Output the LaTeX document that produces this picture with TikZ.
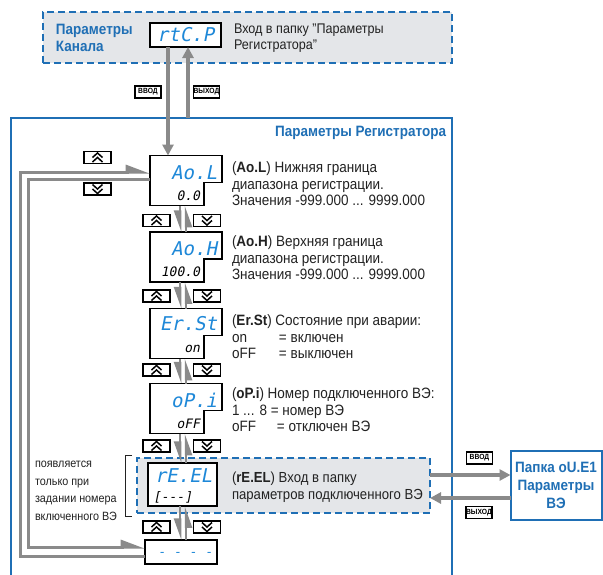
\documentclass[tikz,border=0pt]{standalone}
\usepackage{fontspec}
\setmainfont{Liberation Sans}[FakeStretch=0.9]
\newfontfamily\segfont{DejaVu Sans Mono}[FakeSlant=0.2]
\usetikzlibrary{arrows.meta,calc}
\definecolor{bl}{HTML}{1F6FB5}
\definecolor{seg}{HTML}{1E88D8}
\definecolor{lg}{HTML}{E4E6E9}
\definecolor{gr}{HTML}{8A8A8A}
\definecolor{tx}{HTML}{222222}
\tikzset{
  every node/.style={inner sep=0pt, outer sep=0pt},
  txt/.style={font=\fontsize{15}{16.5}\selectfont, align=left, text=tx},
  btitle/.style={font=\fontsize{15}{16.5}\selectfont\bfseries, text=bl, align=left},
  disp/.style={minimum width=72pt, minimum height=50pt},
  dline/.style={line width=1.3pt, fill=white, line join=miter},
  segtop/.style={font=\segfont\fontsize{19}{19}\selectfont, text=seg},
  segbot/.style={font=\segfont\fontsize{13}{13}\selectfont, text=black},
  dashbox/.style={draw=bl, line width=1.5pt, dash pattern=on 7pt off 4pt, fill=lg},
  btn/.style={draw=black, line width=1.2pt, fill=white, minimum width=27pt, minimum height=12pt},
  upbtn/.style={btn, path picture={
    \draw[line width=1.5pt, line join=miter, shift={(path picture bounding box.center)}]
      (-5,0)--(0,-4.5)--(5,0) (-5,4.5)--(0,0)--(5,4.5);}},
  dnbtn/.style={btn, path picture={
    \draw[line width=1.5pt, line join=miter, shift={(path picture bounding box.center)}]
      (-5,0)--(0,4.5)--(5,0) (-5,-4.5)--(0,0)--(5,-4.5);}},
  lab/.style={draw=black, line width=1.1pt, fill=white, minimum width=26pt, minimum height=12pt,
    font=\fontsize{7.5}{7.5}\selectfont\bfseries},
  garrow/.style={draw=gr, line width=3.5pt, -{Triangle[length=11pt,width=11pt]}},
  hvs/.style={draw=gr, line width=2.5pt, -{Triangle[harpoon,swap,length=18pt,width=12pt]}},
  hl/.style={draw=gr, line width=3pt, line join=miter, -{Triangle[harpoon,length=20pt,width=14pt]}},
}
\newcommand\notchbox[1]{\draw[dline] (#1.north west) -- (#1.north east) -- ([yshift=-27pt]#1.north east)
  -- ([xshift=-18pt,yshift=-27pt]#1.north east) -- ([xshift=-18pt]#1.south east) -- (#1.south west) -- cycle;}
\begin{document}
\begin{tikzpicture}[x=1pt,y=-1pt]
\useasboundingbox (0,0) rectangle (603,574);
\fill[white] (0,0) rectangle (603,574);

% top channel box
\node[dashbox, minimum width=409pt, minimum height=51pt] (chan) at (247.5,37.5) {};
\node[btitle, anchor=west] (chant) at (56,38) {Параметры\\Канала};
\node[draw=black, line width=1.3pt, fill=white, minimum width=71pt, minimum height=24pt] (rtcp) at (185.5,35) {};
\node[segtop] (rtcpt) at (185.5,35) {rtC.P};
\node[txt, anchor=west, font=\fontsize{14}{16.5}\selectfont] (chand) at (234,38) {Вход в папку "Параметры\\Регистратора"};

% register frame
\draw[bl, line width=2pt] (11,590) -- (11,118) -- (452,118) -- (452,590);
\node[btitle, anchor=east] (regt) at (446,133) {Параметры Регистратора};
\coordinate (rt) at (188,118);

\node[lab] (vvod1) at (148,92) {ВВОД};
\node[lab] (vyh1) at (206.5,92) {ВЫХОД};

% displays
\node[disp] (aol) at (186,180.5) {}; \notchbox{aol}
\node[segtop, anchor=east] (aolt) at ([xshift=-5pt,yshift=-17pt]aol.north east) {Ao.L};
\node[segbot, anchor=east] (aolb) at ([xshift=-22pt,yshift=-40pt]aol.north east) {0.0};
\node[txt, anchor=base west] (aold) at (232,205.5) {(\textbf{Ao.L}) Нижняя граница\\диапазона регистрации.\\Значения -999.000 ... 9999.000};

\node[disp] (aoh) at (186,257) {}; \notchbox{aoh}
\node[segtop, anchor=east] (aoht) at ([xshift=-5pt,yshift=-17pt]aoh.north east) {Ao.H};
\node[segbot, anchor=east] (aohb) at ([xshift=-22pt,yshift=-40pt]aoh.north east) {100.0};
\node[txt, anchor=base west] (aohd) at (232,279.5) {(\textbf{Ao.H}) Верхняя граница\\диапазона регистрации.\\Значения -999.000 ... 9999.000};

\node[disp] (erst) at (186,333.5) {}; \notchbox{erst}
\node[segtop, anchor=east] (erstt) at ([xshift=-5pt,yshift=-15pt]erst.north east) {Er.St};
\node[segbot, anchor=east] (erstb) at ([xshift=-22pt,yshift=-40pt]erst.north east) {on};
\node[txt, anchor=base west] (erstd) at (232,358.5) {(\textbf{Er.St}) Состояние при аварии:\\\makebox[47pt][l]{on}= включен\\\makebox[47pt][l]{oFF}= выключен};

\node[disp] (opi) at (186,408.5) {}; \notchbox{opi}
\node[segtop, anchor=east] (opit) at ([xshift=-5pt,yshift=-17pt]opi.north east) {oP.i};
\node[segbot, anchor=east] (opib) at ([xshift=-22pt,yshift=-40pt]opi.north east) {oFF};
\node[txt, anchor=base west] (opid) at (232,431.5) {(\textbf{oP.i}) Номер подключенного ВЭ:\\1 ... 8 = номер ВЭ\\\makebox[45pt][l]{oFF}= отключен ВЭ};

% rE.EL
\node[dashbox, minimum width=293pt, minimum height=55pt] (dbox) at (283.5,485.5) {};
\node[draw=black, line width=1.3pt, fill=white, minimum width=69pt, minimum height=43pt] (ree) at (182.5,484.5) {};
\node[segtop, anchor=east] (reet) at ([xshift=-5pt,yshift=-13pt]ree.north east) {rE.EL};
\node[segbot, anchor=west] (reeb) at ([xshift=5pt,yshift=-34pt]ree.north west) {[---]};
\node[txt, anchor=base west, font=\fontsize{14.6}{16.5}\selectfont] (reed) at (232,499) {(\textbf{rE.EL}) Вход в папку\\параметров подключенного ВЭ};

\draw[line width=0.9pt, tx] (132,455) -- (125,455) -- (125,516) -- (132,516);
\node[txt, anchor=base west, font=\fontsize{12}{17.5}\selectfont] (note) at (35,520) {появляется\\только при\\задании номера\\включенного ВЭ};

% bottom box
\node[draw=black, line width=1.3pt, fill=white, minimum width=72pt, minimum height=24pt] (bot) at (181,552) {};
\node[segbot, text=seg] (bott) at ([xshift=4pt,yshift=-2pt]bot.center) {- - - -};

% Papka
\node[draw=bl, line width=2pt, fill=white, minimum width=91pt, minimum height=69pt] (papka) at (556,485.5) {};
\node[btitle, align=center, font=\fontsize{15}{18}\selectfont\bfseries] (papkat) at (556,485.5) {Папка oU.E1\\Параметры\\ВЭ};

% buttons
\node[upbtn] (bu0) at (97.5,157.5) {};
\node[dnbtn] (bd0) at (97.5,189) {};
\foreach \n/\y in {1/220.5, 2/296, 3/370, 4/446, 5/527} {
  \node[upbtn] (bu\n) at (156.5,\y) {};
  \node[dnbtn] (bd\n) at (207,\y) {};
}

% connectors
\draw[garrow] ([xshift=-17.5pt]rtcp.south) -- ([xshift=-18pt]aol.north);
\draw[garrow] (rt) -- (rt |- rtcp.south);

\draw[hvs] ([xshift=-6pt]aol.south) -- ([xshift=-6pt]aoh.north);
\draw[hvs] (aoh.north) -- (aol.south);
\draw[hvs] ([xshift=-6pt]aoh.south) -- ([xshift=-6pt]erst.north);
\draw[hvs] (erst.north) -- (aoh.south);
\draw[hvs] ([xshift=-6pt]erst.south) -- ([xshift=-6pt]opi.north);
\draw[hvs] (opi.north) -- (erst.south);
\draw[hvs] ([xshift=-6pt]opi.south) -- ([xshift=-6pt]opi.south |- ree.north);
\draw[hvs] (opi.south |- ree.north) -- (opi.south);
\draw[hvs] ([xshift=-2.5pt]ree.south) -- ([xshift=-2.5pt]ree.south |- bot.north);
\draw[hvs] ([xshift=3.5pt]ree.south |- bot.north) -- ([xshift=3.5pt]ree.south);

\draw[hl] ([yshift=-4pt]bot.west) -| ([xshift=-130pt,yshift=8.5pt]aol.west) -- ([yshift=8.5pt]aol.west);
\draw[hl] ([yshift=1.5pt]aol.west) -| ([xshift=-117pt,yshift=5pt]bot.west) -- ([yshift=5pt]bot.west);

\draw[garrow] ([yshift=10.5pt]dbox.east) -- ([yshift=10.5pt]dbox.east -| papka.west);
\draw[garrow] ([yshift=-12.5pt]papka.west) -- ([yshift=-12.5pt]papka.west -| dbox.east);
\node[lab] (vvod2) at (479.5,458) {ВВОД};
\node[lab] (vyh2) at (479,512.5) {ВЫХОД};
\end{tikzpicture}
\end{document}
